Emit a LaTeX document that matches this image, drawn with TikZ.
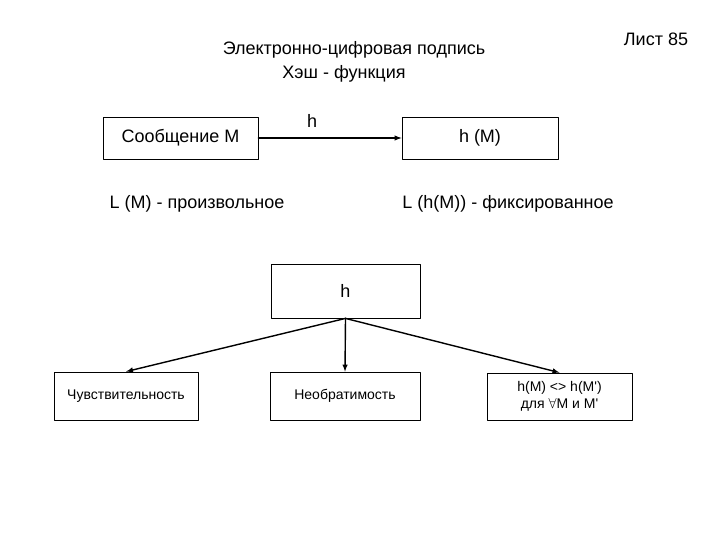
\documentclass[tikz,border=0pt]{standalone}
\usepackage{fontspec}
\setmainfont{Liberation Sans}
\begin{document}
\begin{tikzpicture}[x=1pt,y=-1pt,line cap=round,line join=round,>=latex]
  \tikzset{
    box/.style={draw,line width=0.8pt,inner sep=0pt},
    bigtext/.style={font=\fontsize{18}{21}\selectfont},
    smalltext/.style={font=\fontsize{14}{17}\selectfont},
    link/.style={->,line width=1.4pt}
  }
  \useasboundingbox (0,0) rectangle (720,540);
  \node[bigtext] (title) at (354,50) {Электронно-цифровая подпись};
  \node[bigtext] (subtitle) at (344,74) {Хэш - функция};
  \node[bigtext] (sheet) at (656,39) {Лист 85};
  \node[box,bigtext,minimum width=155pt,minimum height=42pt] (msg) at (180.5,138) {Сообщение М};
  \node[box,bigtext,minimum width=156pt,minimum height=42pt] (hash) at (480,138) {h (M)};
  \draw[link] (msg) -- node[bigtext,above=6pt,pos=0.375] (hlabel) {h} (hash);
  \node[bigtext] (lmsg) at (197,204) {L (M) - произвольное};
  \node[bigtext] (lhash) at (508,204) {L (h(M)) - фиксированное};
  \node[box,bigtext,minimum width=149pt,minimum height=54pt] (hfun) at (345.5,291) {h};
  \node[box,smalltext,minimum width=144pt,minimum height=48pt] (sens) at (126,396) {Чувствительность};
  \node[box,smalltext,minimum width=150pt,minimum height=48pt] (irrev) at (345,396) {Необратимость};
  \node[box,smalltext,minimum width=145pt,minimum height=47pt,align=center] (coll) at (559.5,396.5)
    {h(M) <> h(M\textquotesingle)\\для $\forall$M и M\textquotesingle};
  \draw[link] (hfun.south) -- (sens.north);
  \draw[link] (hfun.south) -- (irrev.north);
  \draw[link] (hfun.south) -- (coll.north);
\end{tikzpicture}
\end{document}
